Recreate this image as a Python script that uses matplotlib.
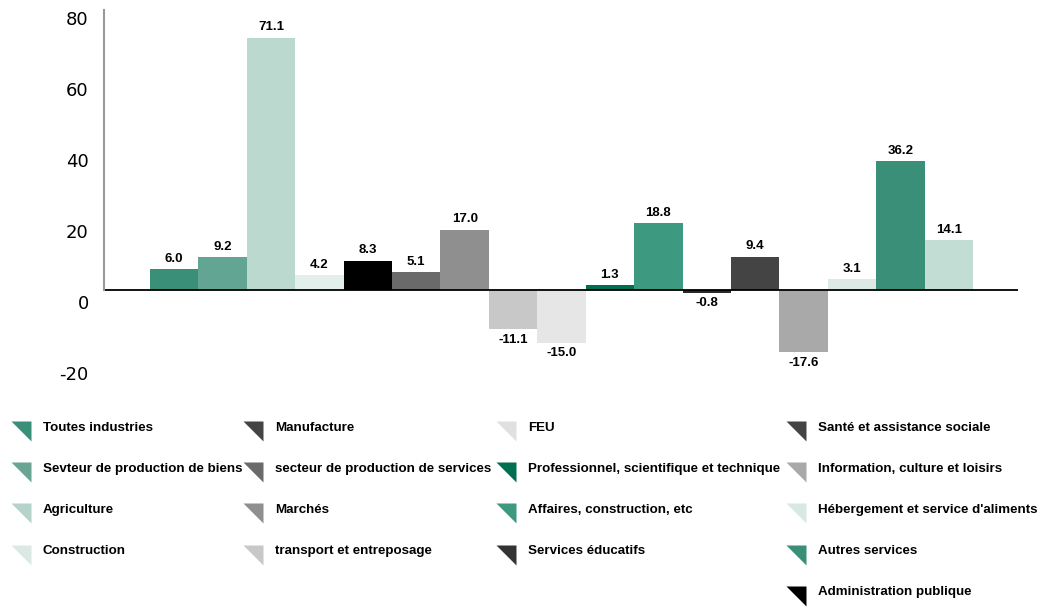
import numpy as np
import matplotlib.pyplot as plt
from matplotlib.lines import Line2D
from matplotlib.path import Path

# bar values, left to right
values = [6.0, 9.2, 71.1, 4.2, 8.3, 5.1, 17.0, -11.1, -15.0,
          1.3, 18.8, -0.8, 9.4, -17.6, 3.1, 36.2, 14.1]
bar_colors = ["#3a8f78", "#62a592", "#bcd9d0", "#e3efea", "#000000",
              "#6a6a6a", "#8f8f8f", "#c8c8c8", "#e6e6e6", "#006e50",
              "#3d9a80", "#2a2a2a", "#444444", "#a9a9a9", "#dde9e4",
              "#3a8f78", "#c2ddd4"]

# legend, one list per column
legend_cols = [
    ["Toutes industries", "Sevteur de production de biens", "Agriculture",
     "Construction"],
    ["Manufacture", "secteur de production de services", "Marchés",
     "transport et entreposage"],
    ["FEU", "Professionnel, scientifique et technique",
     "Affaires, construction, etc", "Services éducatifs"],
    ["Santé et assistance sociale", "Information, culture et loisirs",
     "Hébergement et service d'aliments", "Autres services",
     "Administration publique"],
]
legend_colors = [
    ["#3a8f78", "#6aa594", "#b5d3ca", "#dbe9e4"],
    ["#444444", "#6a6a6a", "#8f8f8f", "#c8c8c8"],
    ["#e0e0e0", "#006e50", "#3d9a80", "#333333"],
    ["#444444", "#a9a9a9", "#d8e8e2", "#3a8f78", "#000000"],
]
yticks = [-20, 0, 20, 40, 60, 80]

W, H = 1051, 607
fig = plt.figure(figsize=(W / 100, H / 100), dpi=100)
pos = [104 / W, 1 - 380 / H, 914 / W, 380 / H]
ax = fig.add_axes(pos)

scale = 3.55  # px per unit
ylim = (-90 / scale, 290 / scale)
x = np.arange(len(values))
ax.bar(x, values, width=1.0, color=bar_colors, edgecolor="none")
ax.set_xlim(-1.45, 17.43)
ax.set_ylim(*ylim)
ax.axhline(0, color="black", lw=1.3)

for xi, v in zip(x, values):
    off = 3 if v >= 0 else -3
    ax.annotate(f"{v:.1f}", (xi, v), xytext=(0, off), textcoords="offset points",
                ha="center", va="bottom" if v >= 0 else "top",
                fontsize=9.5, family="Liberation Sans", fontweight="bold")

for s in ["top", "right", "bottom"]:
    ax.spines[s].set_visible(False)
ax.spines["left"].set_color("#999999")
ax.spines["left"].set_linewidth(1.5)
ax.spines["left"].set_bounds(0, 280 / scale)
ax.set_xticks([])
ax.set_yticks([])

# the tick labels sit a little below their values in the original
lab = fig.add_axes([pos[0], pos[1] - 5 / H, pos[2], pos[3]])
lab.set_ylim(*ylim)
lab.patch.set_visible(False)
for s in lab.spines.values():
    s.set_visible(False)
lab.set_xticks([])
lab.set_yticks(yticks, [str(t) for t in yticks], va="top", fontsize=13)
lab.tick_params(axis="y", length=0, pad=11)

# legend triangle, hanging a bit below the text line
tri = Path([(-1, 0.5), (1, 0.5), (1, -1.5), (-1, 0.5)], closed=True)
col_x = [10, 242, 495, 785]
for cx, labels, cols in zip(col_x, legend_cols, legend_colors):
    handles = [Line2D([], [], ls="none", marker=tri, markersize=21,
                      markerfacecolor=c, markeredgecolor="none") for c in cols]
    fig.legend(handles, labels, loc="upper left",
               bbox_to_anchor=(cx / W, 1 - 421.5 / H), frameon=False,
               handlelength=1.6, handletextpad=0.86, labelspacing=2.16,
               borderpad=0, borderaxespad=0,
               prop={"family": "Liberation Sans", "weight": "bold", "size": 9.6})

fig.savefig("out.png", dpi=100)
